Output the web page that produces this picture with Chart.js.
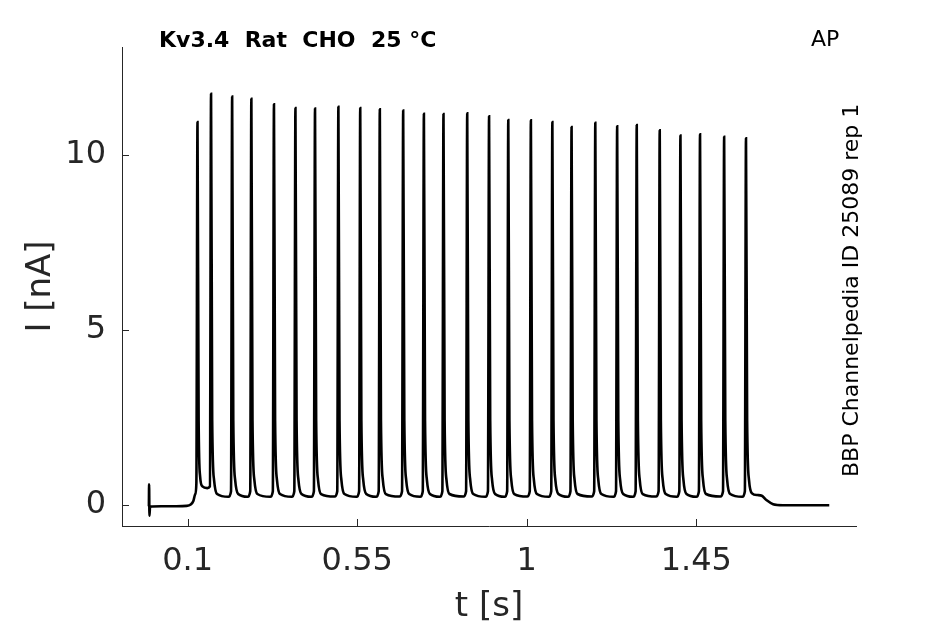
<!DOCTYPE html>
<html>
<head>
<meta charset="utf-8">
<script src="https://cdn.jsdelivr.net/npm/chart.js@4.4.1/dist/chart.umd.min.js"></script>
<style>
html, body { margin: 0; padding: 0; background: #fff; }
#wrap { width: 945px; height: 624px; }
</style>
</head>
<body>
<div id="wrap"><canvas id="chart" width="945" height="624"></canvas></div>
<script>
// trace, time in s
const traceT = [
	-0.003, -0.0025, -0.0015, 0.0, 0.03, 0.07, 0.097, 0.108, 0.115, 0.12, 0.123,
	0.126, 0.129, 0.133, 0.139, 0.152, 0.159,
	0.162, 0.165, 0.170, 0.178, 0.208, 0.215,
	0.218, 0.221, 0.226, 0.234, 0.259, 0.266,
	0.269, 0.272, 0.277, 0.285, 0.319, 0.326,
	0.329, 0.332, 0.337, 0.345, 0.376, 0.383,
	0.386, 0.389, 0.394, 0.402, 0.428, 0.435,
	0.438, 0.441, 0.446, 0.454, 0.490, 0.497,
	0.500, 0.503, 0.508, 0.516, 0.548, 0.555,
	0.558, 0.561, 0.566, 0.574, 0.600, 0.607,
	0.610, 0.613, 0.618, 0.626, 0.662, 0.669,
	0.672, 0.675, 0.680, 0.688, 0.717, 0.724,
	0.727, 0.730, 0.735, 0.743, 0.769, 0.776,
	0.779, 0.782, 0.787, 0.795, 0.832, 0.839,
	0.842, 0.845, 0.850, 0.858, 0.890, 0.897,
	0.900, 0.903, 0.908, 0.916, 0.941, 0.948,
	0.951, 0.954, 0.959, 0.967, 1.001, 1.008,
	1.011, 1.014, 1.019, 1.027, 1.058, 1.065,
	1.068, 1.071, 1.076, 1.084, 1.109, 1.116,
	1.119, 1.122, 1.127, 1.135, 1.172, 1.179,
	1.182, 1.185, 1.190, 1.198, 1.230, 1.237,
	1.240, 1.243, 1.248, 1.256, 1.282, 1.289,
	1.292, 1.295, 1.300, 1.308, 1.343, 1.350,
	1.353, 1.356, 1.361, 1.369, 1.398, 1.405,
	1.408, 1.411, 1.416, 1.424, 1.450, 1.457,
	1.460, 1.463, 1.468, 1.476, 1.514, 1.521,
	1.524, 1.527, 1.532, 1.540, 1.572, 1.579,
	1.582, 1.585, 1.590, 1.598, 1.612, 1.624, 1.637, 1.654, 1.680, 1.803
];
// current in nA
const traceI = [
	-0.05, 0.58, -0.32, -0.06, -0.05, -0.05, -0.04, 0.0, 0.1, 0.3, 0.6,
	10.94, 2.4, 0.8, 0.52, 0.47, 0.52,
	11.75, 2.4, 0.7, 0.3, 0.22, 0.38,
	11.67, 2.4, 0.7, 0.3, 0.22, 0.38,
	11.61, 2.4, 0.7, 0.3, 0.22, 0.38,
	11.45, 2.4, 0.7, 0.3, 0.22, 0.38,
	11.34, 2.4, 0.7, 0.3, 0.22, 0.38,
	11.33, 2.4, 0.7, 0.3, 0.23, 0.38,
	11.38, 2.4, 0.7, 0.3, 0.22, 0.38,
	11.34, 2.4, 0.7, 0.3, 0.22, 0.38,
	11.31, 2.4, 0.7, 0.3, 0.23, 0.38,
	11.27, 2.4, 0.7, 0.3, 0.22, 0.38,
	11.18, 2.4, 0.7, 0.3, 0.22, 0.38,
	11.17, 2.4, 0.7, 0.3, 0.23, 0.38,
	11.19, 2.4, 0.7, 0.3, 0.22, 0.38,
	11.11, 2.4, 0.7, 0.3, 0.22, 0.38,
	11.00, 2.4, 0.7, 0.3, 0.23, 0.38,
	10.99, 2.4, 0.7, 0.3, 0.22, 0.38,
	10.94, 2.4, 0.7, 0.3, 0.22, 0.38,
	10.80, 2.4, 0.7, 0.3, 0.23, 0.38,
	10.92, 2.4, 0.7, 0.3, 0.22, 0.38,
	10.82, 2.4, 0.7, 0.3, 0.22, 0.38,
	10.86, 2.4, 0.7, 0.3, 0.23, 0.38,
	10.71, 2.4, 0.7, 0.3, 0.22, 0.38,
	10.56, 2.4, 0.7, 0.3, 0.22, 0.38,
	10.59, 2.4, 0.7, 0.3, 0.23, 0.38,
	10.52, 2.4, 0.7, 0.3, 0.22, 0.38,
	10.48, 2.4, 0.7, 0.32, 0.27, 0.25, 0.12, 0.01, -0.02, -0.02
];
const xTicks = [0.1, 0.55, 1, 1.45];
const xTickLabels = ["0.1", "0.55", "1", "1.45"];
const yTicks = [0, 5, 10];
const yTickLabels = ["0", "5", "10"];
const titleText = "Kv3.4  Rat  CHO  25 °C";
const cornerText = "AP";
const sideText = "BBP Channelpedia ID 25089 rep 1";

const ink = "#262626";
const fontName = "DejaVu Sans";

let points = [];
for(let i = 0; i < traceT.length; i++){
	points[points.length] = {x: traceT[i], y: traceI[i]};
}

// matlab style: ticks point into the axes, plus the loose texts
const extras = {
	id: "extras",
	afterDraw(chart){
		let ctx = chart.ctx;
		let xs = chart.scales.x;
		let ys = chart.scales.y;
		let area = chart.chartArea;
		ctx.save();
		ctx.strokeStyle = ink;
		ctx.lineWidth = 1;
		ctx.beginPath();
		for(let i = 0; i < xTicks.length; i++){
			let px = Math.round(xs.getPixelForValue(xTicks[i])) + 0.5;
			ctx.moveTo(px, area.bottom);
			ctx.lineTo(px, area.bottom - 7);
		}
		for(let i = 0; i < yTicks.length; i++){
			let py = Math.round(ys.getPixelForValue(yTicks[i])) + 0.5;
			ctx.moveTo(area.left, py);
			ctx.lineTo(area.left + 7, py);
		}
		ctx.stroke();

		ctx.fillStyle = "#000";
		ctx.textBaseline = "alphabetic";
		ctx.textAlign = "left";
		ctx.font = "bold 22px '" + fontName + "'";
		ctx.fillText(titleText, 159, 47);
		ctx.font = "22px '" + fontName + "'";
		ctx.fillText(cornerText, 811, 46);
		ctx.translate(858, 477);
		ctx.rotate(-Math.PI / 2);
		ctx.fillText(sideText, 0, 0);
		ctx.restore();
	}
};

let ctx = document.getElementById("chart").getContext("2d");
let chart = new Chart(ctx, {
	type: "line",
	data: {
		datasets: [{
			data: points,
			borderColor: "#000",
			backgroundColor: "#000",
			borderWidth: 2.6,
			pointRadius: 0,
			fill: false,
			cubicInterpolationMode: "monotone"
		}]
	},
	options: {
		responsive: false,
		devicePixelRatio: 1,
		animation: false,
		layout: { padding: { left: 0, top: 47, right: 89, bottom: 0 } },
		plugins: { legend: { display: false }, tooltip: { enabled: false } },
		scales: {
			x: {
				type: "linear",
				min: -0.0744,
				max: 1.874,
				afterBuildTicks: s => { s.ticks = xTicks.map(v => ({ value: v })); },
				afterFit: s => { s.height = 98; },
				grid: { display: false },
				border: { display: true, color: ink, width: 1 },
				ticks: {
					color: ink,
					font: { family: fontName, size: 32 },
					padding: 8,
					maxRotation: 0,
					autoSkip: false,
					callback: (v, i) => xTickLabels[i]
				},
				title: {
					display: true,
					text: "t [s]",
					color: ink,
					font: { family: fontName, size: 34 },
					padding: { top: 0, bottom: -4 }
				}
			},
			y: {
				type: "linear",
				min: -0.615,
				max: 13.09,
				afterBuildTicks: s => { s.ticks = yTicks.map(v => ({ value: v })); },
				afterFit: s => { s.width = 122; },
				grid: { display: false },
				border: { display: true, color: ink, width: 1 },
				ticks: {
					color: ink,
					font: { family: fontName, size: 32 },
					padding: 8,
					autoSkip: false,
					callback: (v, i) => yTickLabels[i]
				},
				title: {
					display: true,
					text: "I [nA]",
					color: ink,
					font: { family: fontName, size: 34 },
					padding: { top: 21, bottom: 0 }
				}
			}
		}
	},
	plugins: [extras]
});
</script>
</body>
</html>
